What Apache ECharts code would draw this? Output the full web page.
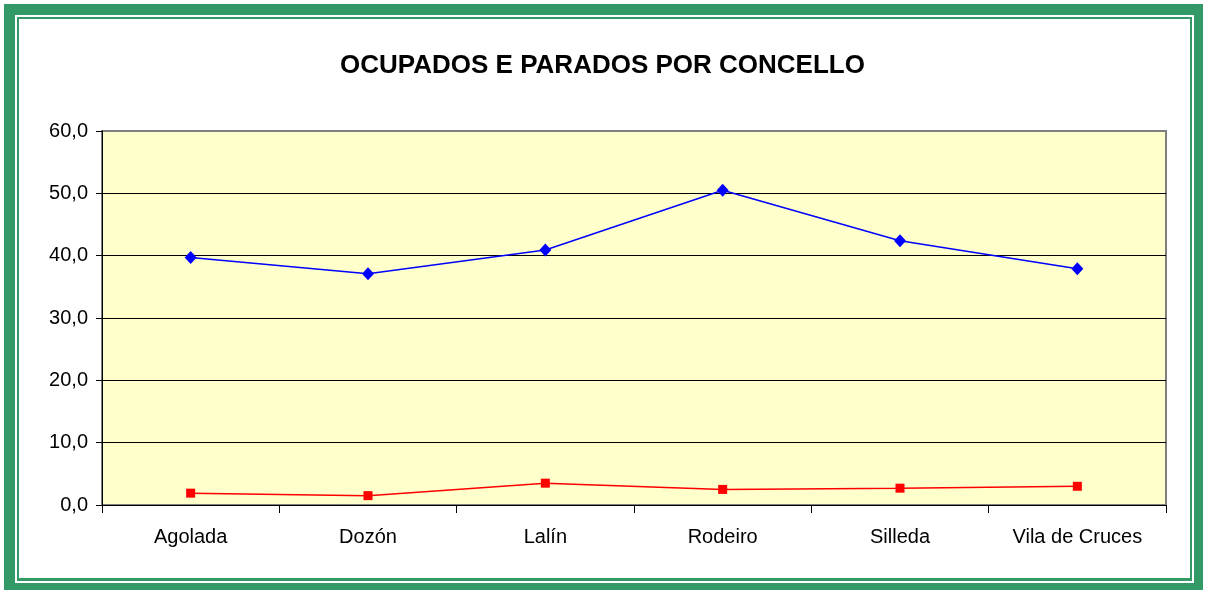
<!DOCTYPE html>
<html>
<head>
<meta charset="utf-8">
<script src="https://cdn.jsdelivr.net/npm/echarts@6/dist/echarts.min.js"></script>
<style>
  html, body { margin: 0; padding: 0; background: #fff; }
  #chart { width: 1205px; height: 591px; }
</style>
</head>
<body>
<div id="chart"></div>
<script>
// concellos
var concellos = ['Agolada', 'Dozón', 'Lalín', 'Rodeiro', 'Silleda', 'Vila de Cruces'];
// ocupados (azul) e parados (vermello)
var ocupados = [39.7, 37.1, 40.9, 50.5, 42.4, 37.9];
var parados = [1.9, 1.5, 3.5, 2.5, 2.7, 3.0];
var yTicks = { min: 0, max: 60, interval: 10 };

var chartDom = document.getElementById('chart');
var myChart = echarts.init(chartDom);
var option;

var green = '#339966';
var font = 'Arial, "Liberation Sans", sans-serif';

option = {
  animation: false,
  backgroundColor: '#ffffff',
  title: {
    text: 'OCUPADOS E PARADOS POR CONCELLO',
    left: 'center',
    top: 48,
    textStyle: {
      fontFamily: font,
      fontSize: 26,
      fontWeight: 'bold',
      color: '#000000'
    }
  },
  // marco verde
  graphic: [
    { type: 'rect', z: -20, silent: true, shape: { x: 4, y: 4, width: 1199, height: 586 }, style: { fill: green } },
    { type: 'rect', z: -19, silent: true, shape: { x: 15, y: 15, width: 1179, height: 568 }, style: { fill: '#ffffff' } },
    { type: 'rect', z: -18, silent: true, shape: { x: 17, y: 17, width: 1175, height: 564 }, style: { fill: green } },
    { type: 'rect', z: -17, silent: true, shape: { x: 19, y: 19, width: 1171, height: 559 }, style: { fill: '#ffffff' } }
  ],
  grid: {
    left: 102,
    right: 39,
    top: 131,
    bottom: 86,
    show: true,
    backgroundColor: '#FFFFCC',
    borderColor: '#808080',
    borderWidth: 2,
    containLabel: false
  },
  xAxis: {
    type: 'category',
    boundaryGap: true,
    data: concellos,
    axisLine: { show: true, lineStyle: { color: '#000000', width: 1 } },
    axisTick: { show: true, length: 8, interval: 0, lineStyle: { color: '#000000' } },
    axisLabel: {
      margin: 22,
      interval: 0,
      fontFamily: font,
      fontSize: 20,
      color: '#000000'
    }
  },
  yAxis: {
    type: 'value',
    min: yTicks.min,
    max: yTicks.max,
    interval: yTicks.interval,
    axisLine: { show: true, lineStyle: { color: '#000000', width: 1 } },
    axisTick: { show: true, length: 6, lineStyle: { color: '#000000' } },
    splitLine: { show: true, showMaxLine: false, lineStyle: { color: '#000000', width: 1 } },
    axisLabel: {
      margin: 14,
      fontFamily: font,
      fontSize: 20,
      color: '#000000',
      formatter: function (v) { return v.toFixed(1).replace('.', ','); }
    }
  },
  series: [
    {
      name: 'Ocupados',
      type: 'line',
      data: ocupados,
      symbol: 'diamond',
      symbolSize: [12, 13],
      lineStyle: { color: '#0000FF', width: 1.5 },
      itemStyle: { color: '#0000FF' }
    },
    {
      name: 'Parados',
      type: 'line',
      data: parados,
      symbol: 'rect',
      symbolSize: [9, 9],
      lineStyle: { color: '#FF0000', width: 1.5 },
      itemStyle: { color: '#FF0000' }
    }
  ]
};

option && myChart.setOption(option);
</script>
</body>
</html>
